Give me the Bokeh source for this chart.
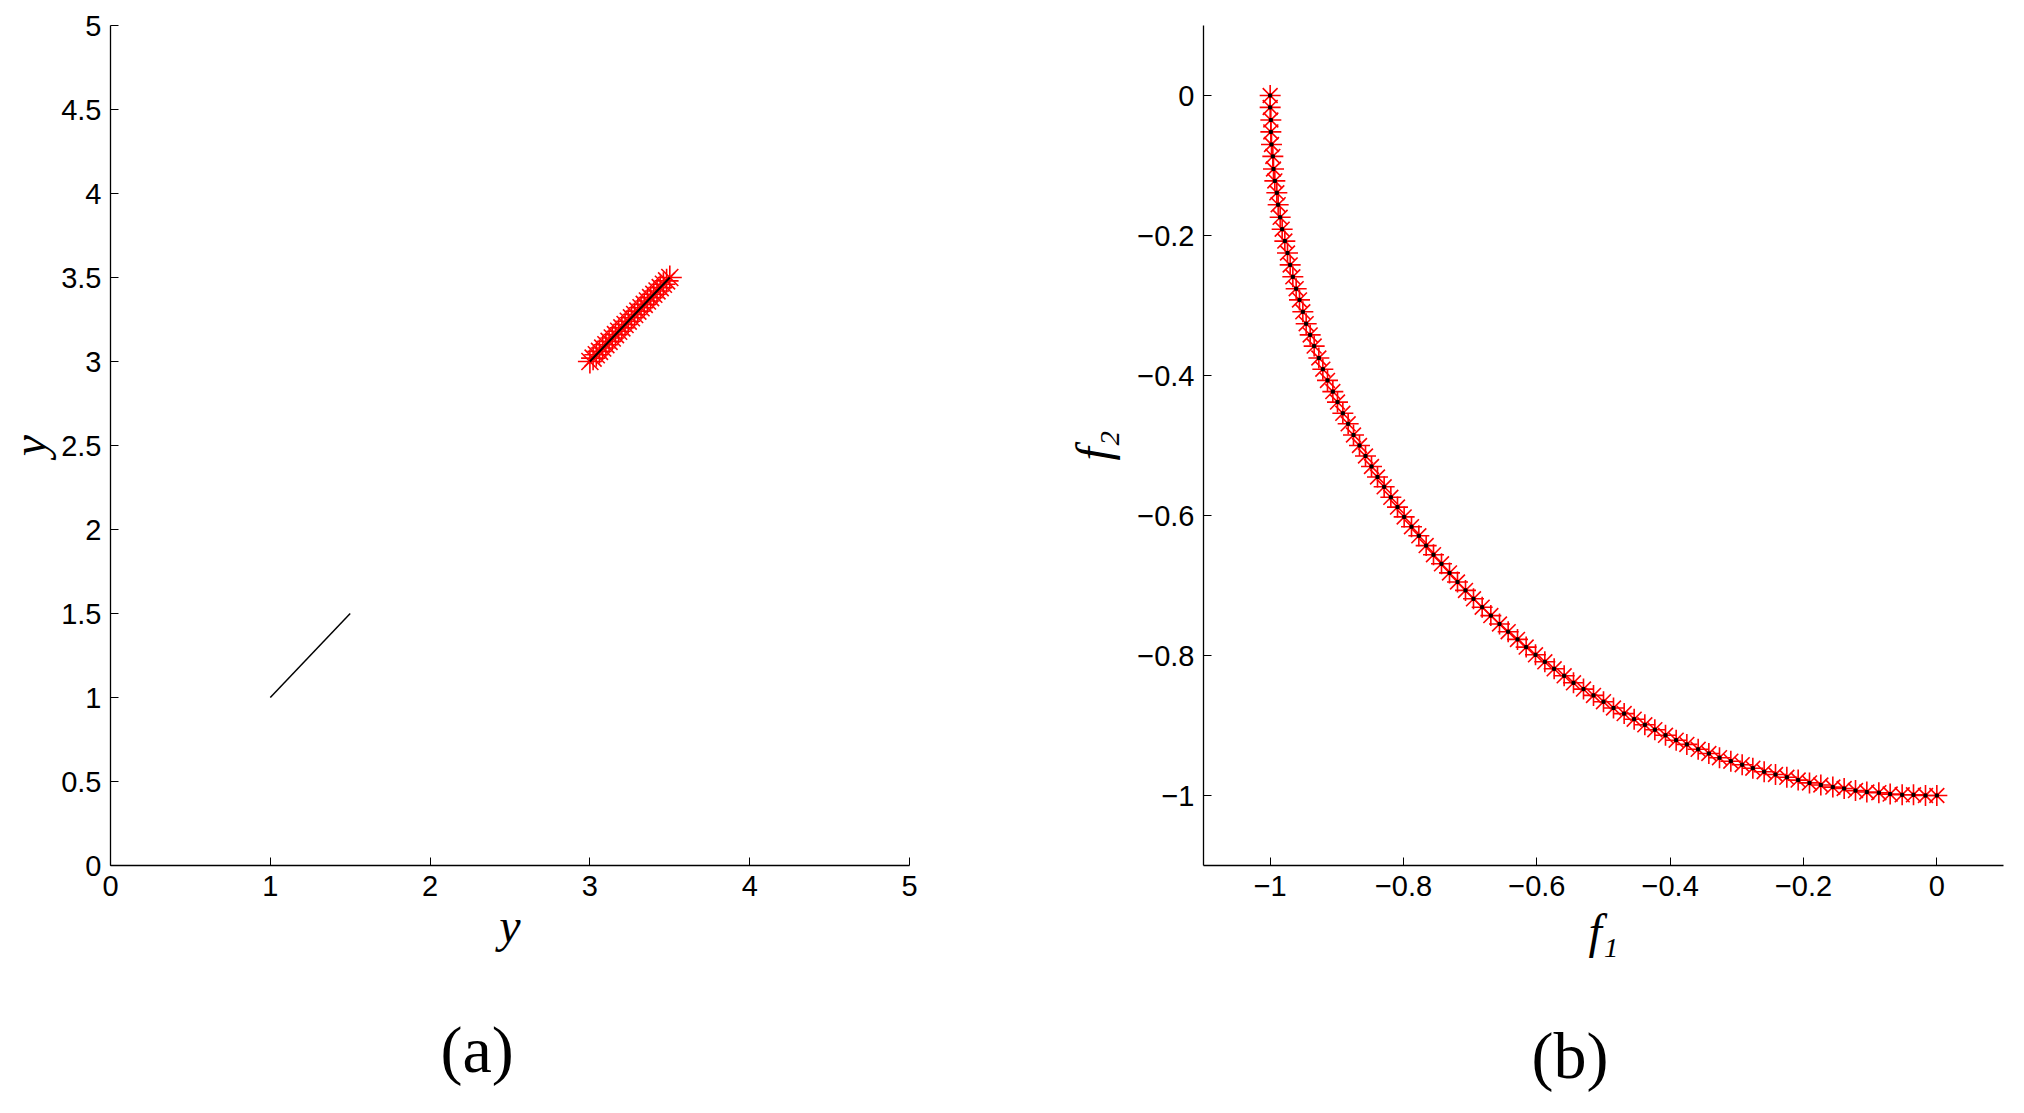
from bokeh.plotting import figure
from bokeh.layouts import row
from bokeh.models import FixedTicker, Range1d, Title
from bokeh.embed import file_html
from bokeh.resources import INLINE

# ---------------- data ----------------
# panel (a): decision space
true_set_a_x = [1.0, 1.5]
true_set_a_y = [1.0, 1.5]
true_set_b_x = [3.0, 3.5]
true_set_b_y = [3.0, 3.5]
found_x = [3.00, 3.02, 3.04, 3.06, 3.08, 3.10, 3.12, 3.14, 3.16, 3.18,
           3.20, 3.22, 3.24, 3.26, 3.28, 3.30, 3.32, 3.34, 3.36, 3.38,
           3.40, 3.42, 3.44, 3.46, 3.48, 3.50]
found_y = [3.00, 3.02, 3.04, 3.06, 3.08, 3.10, 3.12, 3.14, 3.16, 3.18,
           3.20, 3.22, 3.24, 3.26, 3.28, 3.30, 3.32, 3.34, 3.36, 3.38,
           3.40, 3.42, 3.44, 3.46, 3.48, 3.50]

# panel (b): objective space
f1_vals = [-1.000, -1.000, -0.999, -0.999, -0.998, -0.996, -0.995, -0.993, -0.990, -0.988,
           -0.985, -0.982, -0.978, -0.974, -0.970, -0.966, -0.961, -0.956, -0.951, -0.946,
           -0.940, -0.934, -0.927, -0.921, -0.914, -0.906, -0.899, -0.891, -0.883, -0.875,
           -0.866, -0.857, -0.848, -0.839, -0.829, -0.819, -0.809, -0.799, -0.788, -0.777,
           -0.766, -0.755, -0.743, -0.731, -0.719, -0.707, -0.695, -0.682, -0.669, -0.656,
           -0.643, -0.629, -0.616, -0.602, -0.588, -0.574, -0.559, -0.545, -0.530, -0.515,
           -0.500, -0.485, -0.469, -0.454, -0.438, -0.423, -0.407, -0.391, -0.375, -0.358,
           -0.342, -0.326, -0.309, -0.292, -0.276, -0.259, -0.242, -0.225, -0.208, -0.191,
           -0.174, -0.156, -0.139, -0.122, -0.105, -0.087, -0.070, -0.052, -0.035, -0.017,
           0.000]
f2_vals = [0.000, -0.017, -0.035, -0.052, -0.070, -0.087, -0.105, -0.122, -0.139, -0.156,
           -0.174, -0.191, -0.208, -0.225, -0.242, -0.259, -0.276, -0.292, -0.309, -0.326,
           -0.342, -0.358, -0.375, -0.391, -0.407, -0.423, -0.438, -0.454, -0.469, -0.485,
           -0.500, -0.515, -0.530, -0.545, -0.559, -0.574, -0.588, -0.602, -0.616, -0.629,
           -0.643, -0.656, -0.669, -0.682, -0.695, -0.707, -0.719, -0.731, -0.743, -0.755,
           -0.766, -0.777, -0.788, -0.799, -0.809, -0.819, -0.829, -0.839, -0.848, -0.857,
           -0.866, -0.875, -0.883, -0.891, -0.899, -0.906, -0.914, -0.921, -0.927, -0.934,
           -0.940, -0.946, -0.951, -0.956, -0.961, -0.966, -0.970, -0.974, -0.978, -0.982,
           -0.985, -0.988, -0.990, -0.993, -0.995, -0.996, -0.998, -0.999, -0.999, -1.000,
           -1.000]

a_xticks = [0, 1, 2, 3, 4, 5]
a_xlabels = ["0", "1", "2", "3", "4", "5"]
a_yticks = [0, 0.5, 1, 1.5, 2, 2.5, 3, 3.5, 4, 4.5, 5]
a_ylabels = ["0", "0.5", "1", "1.5", "2", "2.5", "3", "3.5", "4", "4.5", "5"]
b_xticks = [-1, -0.8, -0.6, -0.4, -0.2, 0]
b_xlabels = ["−1", "−0.8", "−0.6", "−0.4", "−0.2", "0"]
b_yticks = [-1, -0.8, -0.6, -0.4, -0.2, 0]
b_ylabels = ["−1", "−0.8", "−0.6", "−0.4", "−0.2", "0"]

TICK_FONT = "Liberation Sans"
LABEL_FONT = "Liberation Serif"


def style(p, xticks, xlabels, yticks, ylabels):
    p.outline_line_color = None
    p.xgrid.visible = False
    p.ygrid.visible = False
    for ax, ticks, labels in ((p.xaxis[0], xticks, xlabels), (p.yaxis[0], yticks, ylabels)):
        ax.ticker = FixedTicker(ticks=ticks)
        ax.major_label_overrides = {t: l for t, l in zip(ticks, labels)}
        ax.major_tick_in = 8
        ax.major_tick_out = 0
        ax.minor_tick_line_color = None
        ax.axis_line_color = "black"
        ax.axis_line_width = 1.3
        ax.major_tick_line_color = "black"
        ax.major_label_text_font = TICK_FONT
        ax.major_label_text_font_size = "29px"
        ax.major_label_text_color = "black"
        ax.axis_label_text_font = LABEL_FONT
        ax.axis_label_text_font_style = "italic"
        ax.axis_label_text_font_size = "48px"
        ax.axis_label_text_color = "black"
    p.xaxis[0].major_label_standoff = 10
    p.yaxis[0].major_label_standoff = 9


# ---------------- panel (a) ----------------
pa = figure(width=1056, height=1089, output_backend="svg", toolbar_location=None,
            x_range=Range1d(0, 5), y_range=Range1d(0, 5),
            min_border_left=102, min_border_right=155, min_border_top=25, min_border_bottom=224,
            frame_width=799, frame_height=840)
style(pa, a_xticks, a_xlabels, a_yticks, a_ylabels)
pa.xaxis[0].axis_label = "y"
pa.yaxis[0].axis_label = "y"
pa.xaxis[0].axis_label_standoff = 0
pa.yaxis[0].axis_label_standoff = 2

pa.scatter(found_x, found_y, marker="asterisk", size=24, line_color="#ff0000", line_width=1.6)
pa.line(true_set_a_x, true_set_a_y, line_color="black", line_width=1.5)
pa.line(true_set_b_x, true_set_b_y, line_color="black", line_width=2)

pa.add_layout(Title(text="(a)", align="left", offset=330, standoff=112,
                    text_font=LABEL_FONT, text_font_size="66px", text_font_style="normal",
                    text_color="black"), "below")

# ---------------- panel (b) ----------------
pb = figure(width=952, height=1089, output_backend="svg", toolbar_location=None,
            x_range=Range1d(-1.1, 0.1), y_range=Range1d(-1.1, 0.1),
            min_border_left=139, min_border_right=13, min_border_top=25, min_border_bottom=224,
            frame_width=800, frame_height=840)
style(pb, b_xticks, b_xlabels, b_yticks, b_ylabels)
pb.xaxis[0].axis_label = "f₁"
pb.yaxis[0].axis_label = "f₂"
pb.xaxis[0].axis_label_standoff = 6
pb.yaxis[0].axis_label_standoff = 14

pb.scatter(f1_vals, f2_vals, marker="asterisk", size=21, line_color="#ff0000", line_width=1.6)
pb.scatter(f1_vals, f2_vals, marker="square", size=3, line_color="black", fill_color="black")

pb.add_layout(Title(text="(b)", align="left", offset=328, standoff=112,
                    text_font=LABEL_FONT, text_font_size="66px", text_font_style="normal",
                    text_color="black"), "below")

layout = row(pa, pb)
open("out.html", "w").write(file_html(layout, INLINE))
